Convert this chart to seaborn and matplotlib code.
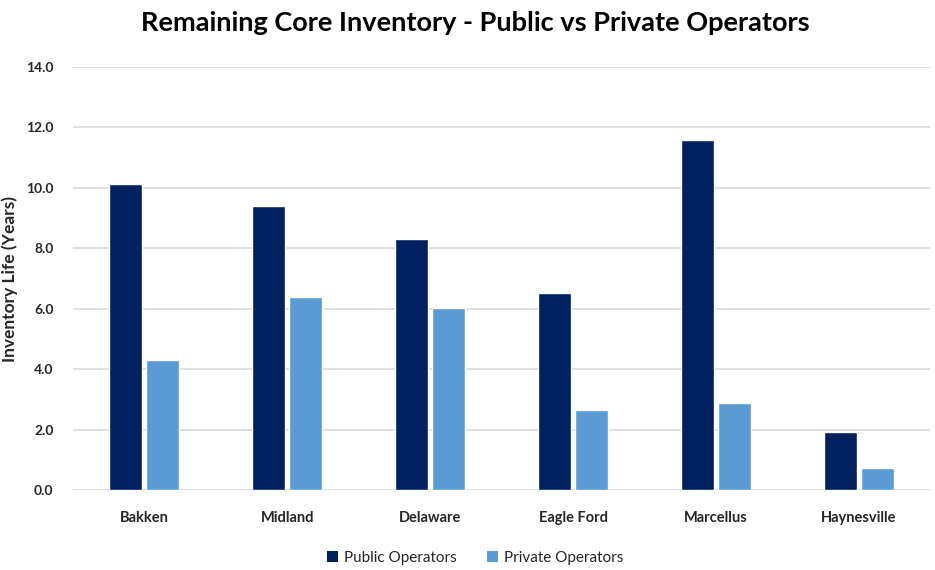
import matplotlib
matplotlib.use("Agg")
import matplotlib.pyplot as plt
import seaborn as sns
import pandas as pd
from matplotlib.patches import Patch

basins = ["Bakken", "Midland", "Delaware", "Eagle Ford", "Marcellus", "Haynesville"]
public_ops = [10.12, 9.4, 8.3, 6.52, 11.6, 1.92]
private_ops = [4.3, 6.38, 6.02, 2.65, 2.88, 0.74]
series_names = ["Public Operators", "Private Operators"]
y_ticks = [0, 2, 4, 6, 8, 10, 12, 14]

df = pd.DataFrame({
    "Basin": basins * 2,
    "Operator": [series_names[0]] * len(basins) + [series_names[1]] * len(basins),
    "Years": public_ops + private_ops,
})

sns.set_theme(style="white")
plt.rcParams["font.family"] = ["Lato", "DejaVu Sans"]

colors = {"Public Operators": "#002060", "Private Operators": "#5B9BD5"}

fig = plt.figure(figsize=(9.35, 5.70), dpi=100)
ax = fig.add_axes([0.078, 0.14, 0.917, 0.7425])

sns.barplot(data=df, x="Basin", y="Years", hue="Operator", palette=colors,
            order=basins, hue_order=series_names, width=0.52, gap=0.11,
            saturation=1, ax=ax, legend=False, zorder=3)

ax.set_ylim(0, 14)
ax.set_yticks(y_ticks)
ax.set_yticklabels([f"{v:.1f}" for v in y_ticks], fontsize=10, fontweight="bold", color="#262626")
ax.tick_params(axis="x", labelsize=10.5, pad=15, colors="#262626")
for lbl in ax.get_xticklabels():
    lbl.set_fontweight("bold")
ax.tick_params(axis="y", pad=14, length=0)
ax.tick_params(axis="x", length=0)
ax.set_xlim(-0.5, len(basins) - 0.5)
ax.yaxis.grid(True, color="#D9D9D9", linewidth=1.2, zorder=0)
ax.set_axisbelow(True)
for s in ax.spines.values():
    s.set_visible(False)

ax.set_xlabel("")
ax.set_ylabel("Inventory Life (Years)", fontsize=12.5, fontweight="bold", color="#262626", labelpad=6)

fig.suptitle("Remaining Core Inventory - Public vs Private Operators",
             fontsize=19.5, fontweight="bold", x=0.508, y=0.98, color="#000000")

handles = [Patch(facecolor=colors[n], edgecolor="none") for n in series_names]
fig.legend(handles, series_names, loc="lower center", bbox_to_anchor=(0.508, -0.015),
           ncol=2, frameon=False, fontsize=11, handlelength=0.7, handleheight=0.7,
           columnspacing=2.0, handletextpad=0.4)

fig.savefig("out.png", dpi=100, facecolor="white")
